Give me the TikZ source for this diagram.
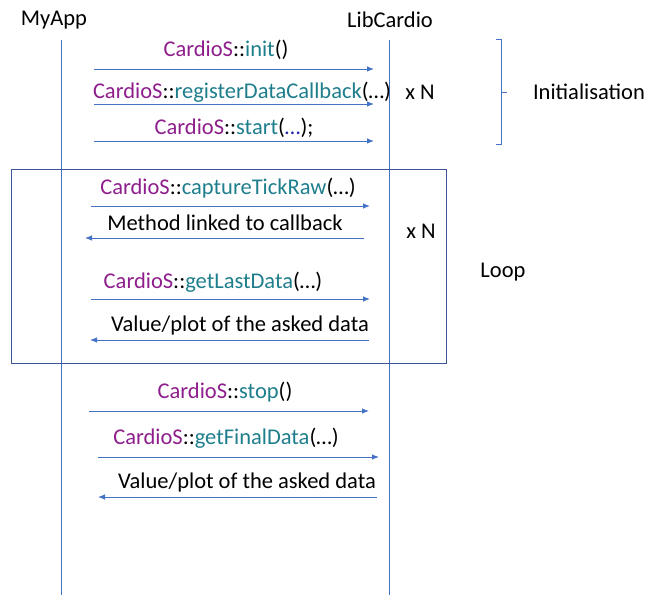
\documentclass[tikz,border=0pt]{standalone}
\usepackage{fontspec}
\setmainfont{Carlito}
\usetikzlibrary{arrows.meta}
\definecolor{cpurple}{RGB}{142,30,140}
\definecolor{cteal}{RGB}{30,126,140}
\definecolor{lblue}{RGB}{68,114,196}
\definecolor{dblue}{RGB}{40,40,170}
\definecolor{boxblue}{RGB}{60,85,150}
\newcommand\cds{\textcolor{cpurple}{CardioS}::}
\newcommand\mth[1]{\textcolor{cteal}{#1}}
\begin{document}
\begin{tikzpicture}[x=1pt,y=-1pt,
  txt/.style={inner sep=0pt,font=\fontsize{22.5}{26}\selectfont},
  life/.style={draw=lblue,line width=0.8pt},
  msg/.style={draw=lblue,line width=0.9pt,-{Latex[length=7pt,width=5.5pt]}}]
\useasboundingbox (0,0) rectangle (649,595);
% lifelines
\node[txt] (myapp) at (54,20) {MyApp};
\node[txt] (lib) at (390,20) {LibCardio};
\coordinate (mt) at (61,40); \coordinate (mb) at (61,595);
\coordinate (lt) at (389,40); \coordinate (lb) at (389,595);
\draw[life] (mt) -- (mb);
\draw[life] (lt) -- (lb);
% init section
\node[txt] (l1) at (226,50) {\cds\mth{init}()};
\coordinate (a1s) at (94,69); \coordinate (a1e) at (374,69);
\draw[msg] (a1s) -- (a1e);
\node[txt] (l2) at (242,92) {\cds\mth{registerDataCallback}(…)};
\coordinate (a2s) at (94,104); \coordinate (a2e) at (374,104);
\draw[msg] (a2s) -- (a2e);
\node[txt] (l3) at (234,128) {\cds\mth{start}(\textcolor{dblue}{…});};
\coordinate (a3s) at (94,141); \coordinate (a3e) at (374,141);
\draw[msg] (a3s) -- (a3e);
\node[txt] (xn1) at (420,92) {x N};
% brace
\coordinate (bt) at (496,39); \coordinate (bb) at (496,144); \coordinate (bm) at (507,92);
\draw[draw=lblue,line width=0.8pt] (bt) -- ++(5,0) -- ++(0,105) -- (bb);
\draw[draw=lblue,line width=0.8pt] (501,92) -- (bm);
\node[txt] (init) at (589,92) {Initialisation};
% loop box
\node[draw=boxblue,line width=0.9pt,minimum width=435pt,minimum height=194pt,inner sep=0pt] (loop) at (228.5,266) {};
\node[txt] (l4) at (228,188) {\cds\mth{captureTickRaw}(…)};
\coordinate (a4s) at (91,206); \coordinate (a4e) at (370,206);
\draw[msg] (a4s) -- (a4e);
\node[txt] (l5) at (225,223) {Method linked to callback};
\coordinate (a5s) at (364,238); \coordinate (a5e) at (85,238);
\draw[msg] (a5s) -- (a5e);
\node[txt] (l6) at (213,282) {\cds\mth{getLastData}(…)};
\coordinate (a6s) at (91,299); \coordinate (a6e) at (370,299);
\draw[msg] (a6s) -- (a6e);
\node[txt] (l7) at (240,325) {Value/plot of the asked data};
\coordinate (a7s) at (369,340); \coordinate (a7e) at (90,340);
\draw[msg] (a7s) -- (a7e);
\node[txt] (xn2) at (421,231) {x N};
\node[txt] (looplbl) at (503,272) {Loop};
% end section
\node[txt] (l8) at (225,392) {\cds\mth{stop}()};
\coordinate (a8s) at (89,411); \coordinate (a8e) at (369,411);
\draw[msg] (a8s) -- (a8e);
\node[txt] (l9) at (226,438) {\cds\mth{getFinalData}(…)};
\coordinate (a9s) at (98,457); \coordinate (a9e) at (379,457);
\draw[msg] (a9s) -- (a9e);
\node[txt] (l10) at (247,482) {Value/plot of the asked data};
\coordinate (a10s) at (377,497); \coordinate (a10e) at (98,497);
\draw[msg] (a10s) -- (a10e);
\end{tikzpicture}
\end{document}
